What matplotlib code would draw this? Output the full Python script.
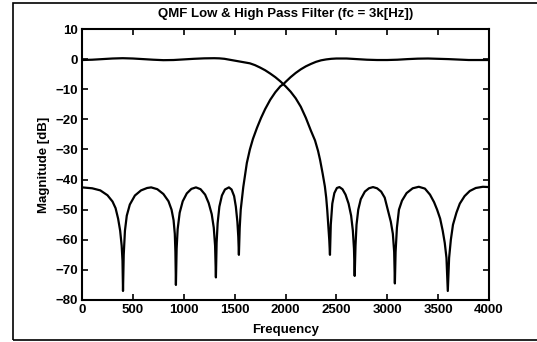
import matplotlib
matplotlib.use("Agg")
import matplotlib.pyplot as plt
from matplotlib.patches import Rectangle

# ---- data ----
title = "QMF Low & High Pass Filter (fc = 3k[Hz])"
xlabel = "Frequency"
ylabel = "Magnitude [dB]"
xticks = [0, 500, 1000, 1500, 2000, 2500, 3000, 3500, 4000]
yticks = [-80, -70, -60, -50, -40, -30, -20, -10, 0, 10]

lp_freq = [0, 100, 200, 300, 400, 500, 600, 700, 800, 900, 1000, 1100, 1200, 1300,
           1350, 1400, 1450, 1500, 1550, 1600, 1650, 1700, 1750, 1800, 1850, 1900,
           1950, 2000, 2050, 2100, 2150, 2200, 2250, 2290, 2320, 2340, 2365, 2387,
           2400, 2410, 2420, 2430, 2437,
           2445, 2460, 2480, 2505, 2530, 2560, 2590, 2620, 2645, 2662, 2673, 2680,
           2688, 2698, 2715, 2740, 2780, 2820, 2860, 2900, 2940, 2975, 3005, 3035,
           3055, 3068, 3075,
           3082, 3095, 3115, 3145, 3190, 3250, 3310, 3370, 3420, 3460, 3490, 3520,
           3545, 3565, 3582, 3595,
           3608, 3625, 3646, 3680, 3713, 3760, 3811, 3870, 3940, 4000]
lp_db = [-0.3, -0.2, 0.0, 0.2, 0.3, 0.2, 0.0, -0.2, -0.35, -0.3, -0.1, 0.1, 0.25, 0.3,
         0.25, 0.1, -0.2, -0.5, -0.8, -1.1, -1.4, -2.0, -2.8, -3.7, -4.8, -6.0,
         -7.4, -9.0, -10.8, -13.0, -15.8, -19.5, -23.8, -27.0, -30.5, -33.5, -38.0, -42.3,
         -46.0, -50.0, -55.0, -60.0, -65.0,
         -55.0, -48.0, -44.5, -42.8, -42.5, -43.2, -45.0, -48.0, -52.0, -57.0, -63.0, -72.0,
         -62.0, -55.0, -50.0, -46.5, -44.0, -42.9, -42.5, -42.9, -44.0, -46.0, -50.0, -54.0,
         -58.0, -64.0, -74.5,
         -64.0, -56.0, -50.0, -47.0, -44.5, -42.9, -42.4, -43.0, -45.0, -47.5, -50.0, -53.0,
         -57.0, -61.0, -66.0, -77.0,
         -66.0, -60.0, -55.0, -51.0, -48.0, -45.5, -43.8, -42.8, -42.4, -42.5]

hp_freq = [0, 100, 180, 250, 300, 330, 355, 375, 390, 398, 403,
           410, 422, 440, 470, 520, 580, 640, 680, 740, 800, 850, 880, 900, 912, 918, 923,
           930, 940, 960, 990, 1030, 1075, 1120, 1165, 1210, 1245, 1275, 1295, 1308, 1316,
           1323, 1333, 1350, 1375, 1405, 1444, 1470, 1495, 1512, 1527, 1536, 1542,
           1550, 1560, 1585, 1620, 1650, 1680, 1720, 1760, 1800, 1850, 1900, 1950, 1980,
           2000, 2050, 2100, 2150, 2200, 2250, 2300, 2350, 2400, 2450, 2500, 2600, 2700,
           2800, 2900, 3000, 3100, 3200, 3300, 3400, 3500, 3600, 3700, 3800, 3900, 4000]
hp_db = [-42.6, -42.9, -43.6, -45.2, -47.3, -49.5, -53.0, -57.0, -62.0, -67.0, -77.0,
         -65.0, -57.0, -52.0, -48.3, -45.3, -43.6, -42.8, -42.6, -43.2, -44.8, -47.2, -50.0,
         -53.5, -58.0, -64.0, -75.0,
         -63.0, -56.5, -51.0, -47.2, -44.6, -43.1, -42.6, -43.2, -45.0, -47.8, -51.5, -56.0,
         -62.0, -72.5,
         -61.0, -54.5, -49.0, -45.3, -43.3, -42.6, -43.3, -45.5, -49.0, -54.0, -59.0, -65.0,
         -56.0, -50.0, -42.5, -34.5, -30.0, -26.5, -22.8, -19.5, -16.6, -13.5, -11.0, -9.0, -8.3,
         -7.6, -6.0, -4.6, -3.4, -2.4, -1.6, -0.9, -0.4, -0.1, 0.1, 0.2, 0.2, 0.0,
         -0.2, -0.3, -0.3, -0.2, 0.0, 0.15, 0.2, 0.1, 0.0, -0.15, -0.3, -0.3, -0.3]

plt.rcParams['font.family'] = ['Liberation Sans', 'DejaVu Sans']
fs = 9.5

fig = plt.figure(figsize=(5.37, 3.42), dpi=100)
ax = fig.add_axes([82/537, 1 - 300/342, (489-82)/537, (300-29)/342])

ax.plot(lp_freq, lp_db, color='black', lw=1.6)
ax.plot(hp_freq, hp_db, color='black', lw=1.6)

ax.set_xlim(0, 4000)
ax.set_ylim(-80, 10)
ax.set_xticks(xticks)
ax.set_yticks(yticks)
ax.tick_params(direction='in', top=True, right=True, length=4, width=1.2,
               labelsize=fs, pad=3)
for lab in ax.get_xticklabels() + ax.get_yticklabels():
    lab.set_fontweight('bold')
for sp in ax.spines.values():
    sp.set_linewidth(1.5)

ax.set_title(title, fontsize=fs, fontweight='bold', pad=9)
ax.set_xlabel(xlabel, fontsize=fs, fontweight='bold', labelpad=6)
ax.set_ylabel(ylabel, fontsize=fs, fontweight='bold', labelpad=4)

fig.patches.append(Rectangle((13/537, 2/342), 1.0, 337/342, transform=fig.transFigure,
                             fill=False, edgecolor='black', lw=1.2, clip_on=False))

fig.savefig('out.png', dpi=100)
